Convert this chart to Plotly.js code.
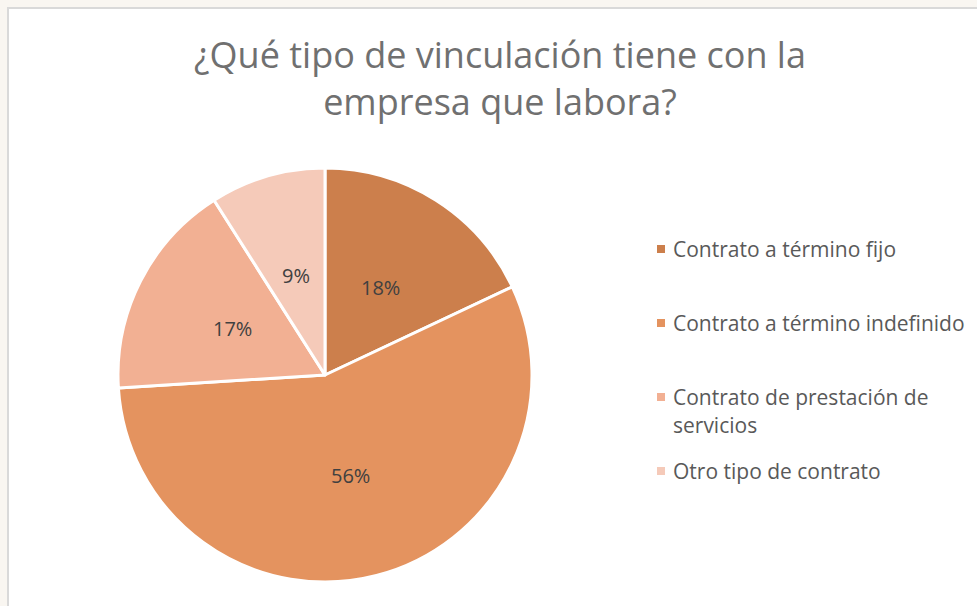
<!DOCTYPE html>
<html><head><meta charset="utf-8">
<script src="https://cdn.plot.ly/plotly-3.0.1.min.js"></script>
<style>html,body{margin:0;padding:0;background:#f9f6f1;overflow:hidden}</style>
</head><body><div id="chart" style="width:977px;height:606px"></div>
<script>
// ---- data ----
const categories = ["Contrato a término fijo", "Contrato a término indefinido", "Contrato de prestación de servicios", "Otro tipo de contrato"];
const shares = [18, 56, 17, 9];
const sliceColors = ["#cc7f4c", "#e4935f", "#f2b093", "#f5cab9"];
const chartTitle = "¿Qué tipo de vinculación tiene con la<br>empresa que labora?";

// ---- layout helpers ----
const W = 977, H = 606;
const px = x => x / W, py = y => 1 - y / H;
const FONT = "Open Sans, Liberation Sans, sans-serif";

function wrap(s, n) {
  const words = s.split(" "); const lines = []; let cur = "";
  for (const w of words) {
    if (cur && (cur + " " + w).length > n) { lines.push(cur); cur = w; }
    else cur = cur ? cur + " " + w : w;
  }
  if (cur) lines.push(cur);
  return lines;
}

// pie placement (pixels)
const PIE = { left: 118, right: 532, top: 168, bottom: 582 };
const pieDomain = { x: [px(PIE.left), px(PIE.right)], y: [py(PIE.bottom), py(PIE.top)] };

const pie = {
  type: "pie",
  values: shares,
  labels: categories,
  sort: false,
  direction: "clockwise",
  rotation: 0,
  marker: { colors: sliceColors, line: { color: "#ffffff", width: 3 } },
  textinfo: "none",
  domain: pieDomain,
  showlegend: false,
  hoverinfo: "label+percent"
};

const shapes = [{
  type: "rect", xref: "paper", yref: "paper", layer: "below",
  x0: px(8), x1: 1.2, y0: -0.2, y1: py(8),
  line: { color: "#d9d9d9", width: 2 }, fillcolor: "#ffffff"
}];
const annotations = [];

// percentage labels at mid-angle, half radius
const total = shares.reduce((a, b) => a + b, 0);
const cx = (PIE.left + PIE.right) / 2, cy = (PIE.top + PIE.bottom) / 2;
const R = (PIE.right - PIE.left) / 2;
let cum = 0;
shares.forEach((s, i) => {
  const theta = (cum + s / 2) / total * 2 * Math.PI;
  cum += s;
  const lx = cx + 0.5 * R * Math.sin(theta), ly = cy - 0.5 * R * Math.cos(theta);
  annotations.push({
    xref: "paper", yref: "paper", x: px(lx), y: py(ly), xanchor: "center", yanchor: "middle",
    showarrow: false, text: Math.round(s / total * 100) + "%",
    font: { family: FONT, size: 20, color: "#404040" }
  });
});

// legend
const legendX = 671, legendY0 = 249, legendStep = 74, lineGap = 28;
categories.forEach((c, i) => {
  const yc = legendY0 + legendStep * i;
  shapes.push({
    type: "rect", xref: "paper", yref: "paper", layer: "above",
    x0: px(657), x1: px(665), y0: py(yc + 4), y1: py(yc - 4),
    line: { width: 0 }, fillcolor: sliceColors[i]
  });
  wrap(c, 30).forEach((ln, j) => {
    annotations.push({
      xref: "paper", yref: "paper", x: px(legendX), y: py(yc + j * lineGap),
      xanchor: "left", yanchor: "middle", showarrow: false, text: ln,
      font: { family: FONT, size: 21, color: "#595959" }
    });
  });
});

const layout = {
  width: W, height: H,
  margin: { l: 0, r: 0, t: 0, b: 0 },
  paper_bgcolor: "#f9f6f1",
  title: {
    text: chartTitle, x: px(500), xanchor: "center", y: py(68), yanchor: "middle",
    xref: "container", yref: "container",
    font: { family: FONT, size: 36, color: "#707070" }
  },
  shapes: shapes,
  annotations: annotations
};

Plotly.newPlot("chart", [pie], layout, { displayModeBar: false, staticPlot: true });
</script>
</body></html>
